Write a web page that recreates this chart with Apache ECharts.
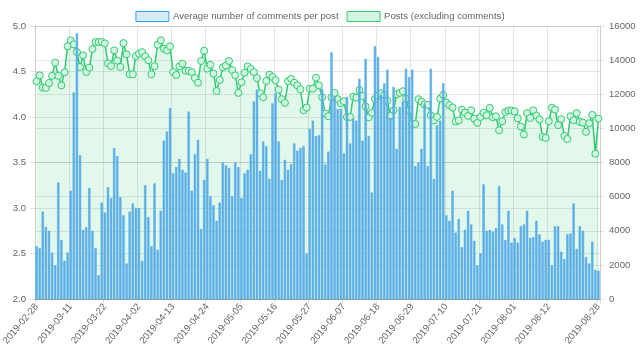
<!DOCTYPE html>
<html><head><meta charset="utf-8">
<script src="https://cdn.jsdelivr.net/npm/echarts@6/dist/echarts.min.js"></script>
<style>html,body{margin:0;padding:0;background:#fff}#c{width:640px;height:361px}</style>
</head><body><div id="c"></div>
<script>
const startDate = '2019-02-28';
const dayCount = 182;
const seriesNames = ['Average number of comments per post', 'Posts (excluding comments)'];
const avgComments = [
2.58,2.56,2.96,2.79,2.75,2.51,2.37,3.28,2.65,2.42,2.51,3.19,4.27,4.92,3.58,2.76,2.79,3.22,2.75,2.56,
2.26,3.06,2.95,3.23,3.11,3.66,3.57,3.12,2.92,2.39,2.96,3.05,3.00,3.00,2.42,3.25,2.90,2.58,3.27,2.54,
2.97,3.74,3.84,4.10,3.38,
3.45,3.54,3.42,3.39,4.06,3.19,3.59,3.75,2.77,3.31,3.54,3.13,3.03,2.86,3.06,3.50,3.47,3.44,3.13,3.50,
3.45,3.11,3.38,3.42,3.59,4.17,4.30,3.41,3.73,3.68,3.32,4.15,4.26,3.73,3.31,3.53,3.42,3.48,3.71,3.63,
3.66,3.68,2.50,3.87,3.96,3.79,3.80,
4.31,3.48,3.62,4.71,4.22,4.09,4.09,3.60,4.22,3.71,3.98,3.96,4.42,3.74,4.64,3.79,3.17,4.78,4.66,4.24,
4.37,4.52,3.99,4.33,3.65,4.11,4.17,4.53,4.44,4.52,3.46,3.50,3.65,4.14,3.46,4.53,3.32,3.91,3.96,4.37,
2.92,2.86,3.19,
2.73,2.88,2.57,2.76,2.97,2.82,2.64,2.37,2.50,3.26,2.75,2.76,2.74,2.78,3.24,2.82,2.65,2.97,2.62,2.67,
2.62,2.80,2.82,2.97,2.67,2.68,2.86,2.71,2.63,2.65,2.65,2.37,2.80,2.80,2.52,2.44,2.71,2.72,3.05,2.55,
2.80,2.75,2.46,2.39,2.63,2.32,2.31
];
const posts = [
12760,13110,12390,12370,12660,13080,13850,13080,12520,13290,14810,15160,14920,14470,13600,14280,13300,13560,14650,15060,
15060,15060,14980,13810,13650,14570,13970,13600,15000,14340,13170,13170,14240,14380,14470,14220,13990,13170,13650,14900,
15160,14670,14570,14810,13300,
13130,13640,13790,13380,13380,13300,12950,12680,13950,14550,13500,13730,13210,12190,12840,13580,13680,13950,13420,13110,
12080,12700,13260,13640,13480,13300,12950,12060,11820,12780,13150,13010,12820,12270,11710,11490,12760,12900,12680,12520,
12290,11060,11220,12330,12330,12970,12520,
11820,10870,10710,11820,12080,11710,11470,11590,10670,10670,11860,11800,12250,11900,11280,10650,10920,11720,11900,12060,
11960,11610,10730,11060,12000,12080,12180,11740,11060,10260,10260,11710,11570,11410,11380,10770,10460,10670,11740,11960,
11510,11360,11220,
10400,10470,11100,10920,10730,11060,10570,10320,10670,10920,10770,11200,10650,10710,9890,10420,10960,11040,11040,11000,
10590,10110,9640,10900,10610,11060,10750,10520,9500,9440,10420,11220,11100,10190,10540,9560,9380,10710,10480,10900,
10380,10340,9800,10300,10790,8510,10570
];
const leftAxisRange = [2.0, 5.0, 0.5];
const rightAxisRange = [0, 16000, 2000];

const categories = [];
(function(){
  const d = new Date(startDate + 'T00:00:00Z');
  for (let i = 0; i < dayCount; i++) {
    const t = new Date(d.getTime() + i * 86400000);
    categories.push(t.toISOString().slice(0, 10));
  }
})();

const labelShown = (idx) => (idx % 11 === 0 && idx <= 165) || idx === dayCount - 1;
const gridColor = 'rgba(0,0,0,0.1)';
const font = 'Liberation Sans, Arial, Helvetica, sans-serif';
const fs = 9.6;

const chart = echarts.init(document.getElementById('c'), null, {renderer: 'canvas'});
chart.setOption({
  animation: false,
  textStyle: {fontFamily: font},
  legend: {
    top: 6, left: 'center', itemWidth: 33, itemHeight: 10, itemGap: 8,
    textStyle: {color: '#666', fontSize: fs, fontFamily: font, padding: [0, 0, 0, -1]},
    data: [
      {name: seriesNames[0], icon: 'rect', itemStyle: {color: 'rgba(54,162,235,0.2)', borderColor: '#36a2eb', borderWidth: 1}},
      {name: seriesNames[1], icon: 'rect', itemStyle: {color: 'rgba(46,204,113,0.2)', borderColor: '#2ecc71', borderWidth: 1}, lineStyle: {width: 0}}
    ]
  },
  grid: {left: 35, right: 40, top: 26, bottom: 62, containLabel: false, outerBoundsMode: 'none'},
  xAxis: {
    type: 'category', data: categories, boundaryGap: true,
    axisLine: {show: true, lineStyle: {color: 'rgba(0,0,0,0.25)'}},
    axisTick: {show: true, interval: (i) => labelShown(i), length: 5, lineStyle: {color: gridColor}},
    splitLine: {show: true, interval: (i) => labelShown(i), lineStyle: {color: gridColor}},
    axisLabel: {interval: (i) => labelShown(i), rotate: 50, color: '#666', fontSize: fs, margin: 6, fontFamily: font}
  },
  yAxis: [
    {
      type: 'value', min: leftAxisRange[0], max: leftAxisRange[1], interval: leftAxisRange[2], position: 'left',
      axisLine: {show: true, lineStyle: {color: gridColor}},
      axisTick: {show: true, length: 5, lineStyle: {color: gridColor}},
      splitLine: {show: true, lineStyle: {color: gridColor}},
      axisLabel: {color: '#666', fontSize: fs, margin: 9, fontFamily: font, formatter: (v) => v.toFixed(1)}
    },
    {
      type: 'value', min: rightAxisRange[0], max: rightAxisRange[1], interval: rightAxisRange[2], position: 'right',
      axisLine: {show: true, lineStyle: {color: gridColor}},
      axisTick: {show: true, length: 5, lineStyle: {color: gridColor}},
      splitLine: {show: true, lineStyle: {color: gridColor}},
      axisLabel: {color: '#666', fontSize: fs, margin: 9, fontFamily: font, formatter: (v) => String(v)}
    }
  ],
  series: [
    {
      name: seriesNames[0], type: 'bar', yAxisIndex: 0, data: avgComments, z: 3,
      barWidth: '74%',
      itemStyle: {color: '#5eb0e8', borderColor: '#4fa9e6', borderWidth: 0.5}
    },
    {
      name: seriesNames[1], type: 'line', yAxisIndex: 1, data: posts, z: 2,
      symbol: 'circle', symbolSize: 7, showSymbol: true, showAllSymbol: true,
      lineStyle: {color: '#2ecc71', width: 1.5},
      itemStyle: {color: 'rgba(213,245,227,1)', borderColor: '#2ecc71', borderWidth: 1},
      areaStyle: {color: 'rgba(46,204,113,0.2)', origin: 'start'}
    }
  ]
});
</script></body></html>
